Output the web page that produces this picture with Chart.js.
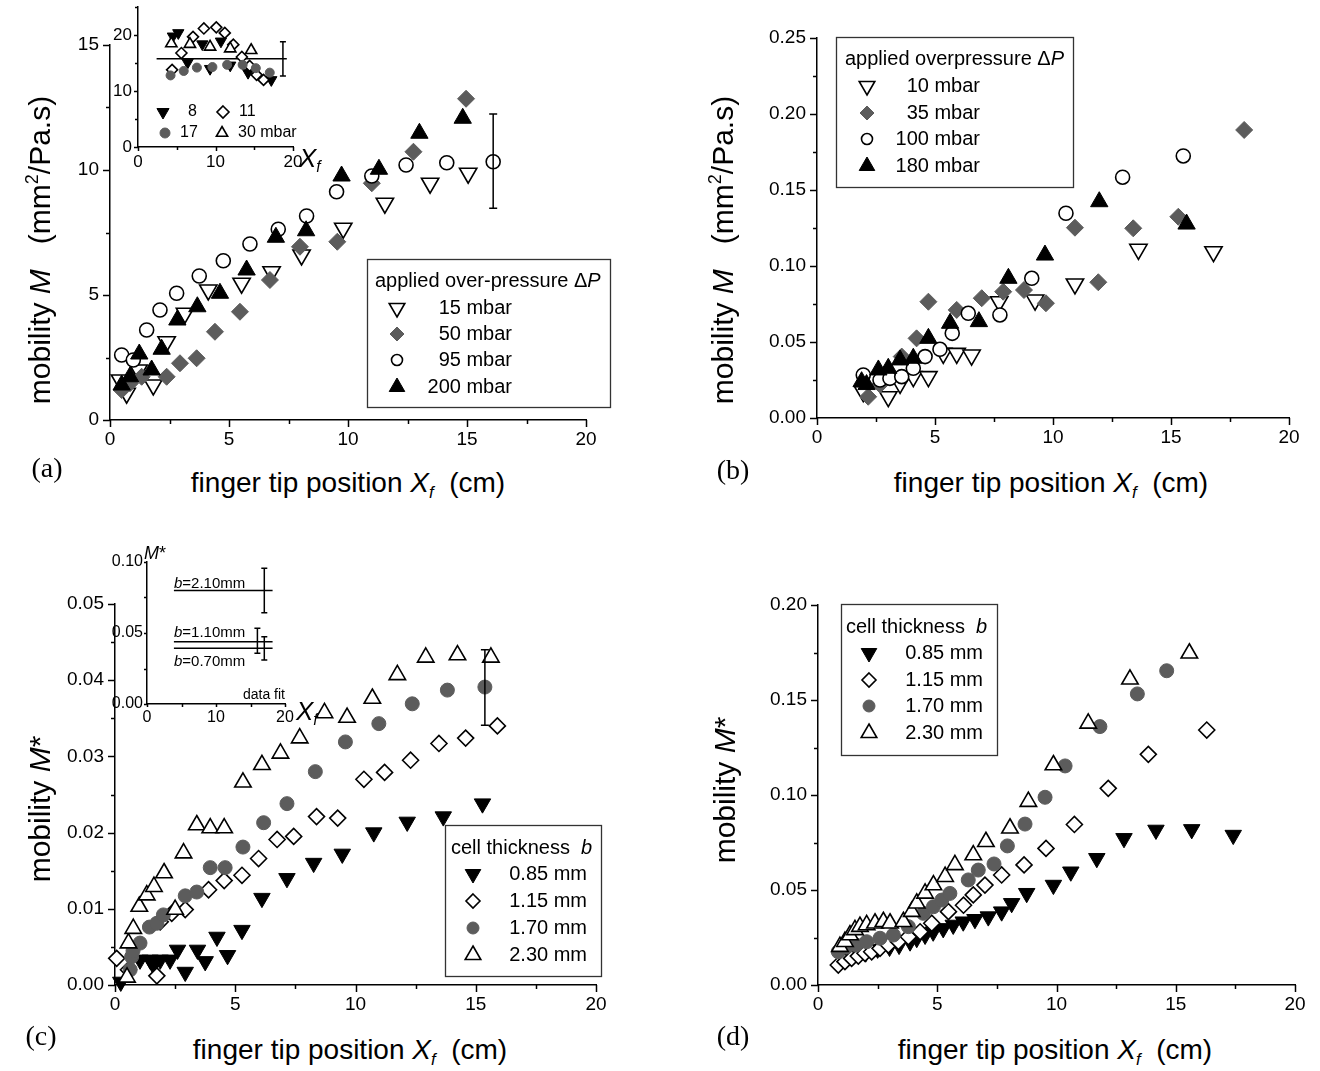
<!DOCTYPE html>
<html>
<head>
<meta charset="utf-8">
<script src="https://cdn.jsdelivr.net/npm/chart.js@4.4.1/dist/chart.umd.min.js"></script>
<style>
body { margin: 0; background: #fff; }
#page { position: relative; width: 1320px; height: 1071px; overflow: hidden; font-family: "Liberation Sans", Arial, sans-serif; color: #000; }
canvas { position: absolute; }
.t { position: absolute; white-space: nowrap; line-height: 1; }
sub { font-size: 0.6em; vertical-align: -0.35em; line-height: 0; }
sup { font-size: 0.6em; vertical-align: 0.65em; line-height: 0; }
</style>
</head>
<body>
<div id="page"></div>
<script>
// ---- panel (a): mobility vs tip position, 4 pressures
var aLabels = ['15 mbar', '50 mbar', '95 mbar', '200 mbar'];
var a15X = [0.42, 0.7, 1.2, 1.82, 2.38, 3.15, 4.13, 5.53, 6.79, 8.05, 9.8, 11.55, 13.45, 15.05];
var a15Y = [1.6, 1.07, 2.0, 1.4, 3.13, 4.27, 5.2, 5.47, 5.93, 6.6, 7.67, 8.67, 9.47, 9.87];
var a50X = [0.49, 0.84, 1.33, 2.38, 2.94, 3.64, 4.41, 5.46, 6.72, 7.98, 9.55, 11.0, 12.75, 14.96];
var a50Y = [1.2, 1.47, 1.73, 1.73, 2.27, 2.47, 3.53, 4.33, 5.6, 6.93, 7.13, 9.47, 10.73, 12.85];
var a95X = [0.49, 0.98, 1.54, 2.1, 2.8, 3.75, 4.76, 5.88, 7.07, 8.26, 9.52, 11.0, 12.44, 14.15, 16.1];
var a95Y = [2.6, 2.4, 3.6, 4.4, 5.07, 5.76, 6.37, 7.04, 7.63, 8.16, 9.13, 9.76, 10.2, 10.29, 10.33];
var a200X = [0.49, 0.84, 1.23, 1.75, 2.17, 2.83, 3.67, 4.62, 5.74, 6.97, 8.24, 9.73, 11.3, 13.0, 14.82];
var a200Y = [1.4, 1.73, 2.64, 2.0, 2.83, 4.0, 4.53, 5.07, 6.0, 7.31, 7.57, 9.76, 10.03, 11.47, 12.07];
var aErr = [16.1, 8.47, 12.24];
var aXTicks = [0, 5, 10, 15, 20];
var aYTicks = [0, 5, 10, 15];

// inset of (a)
var insALabels = ['8', '11', '17', '30 mbar'];
var ins8X = [4.5, 5.2, 6.4, 8.3, 9.3, 10.7, 11.9, 14.2, 17.2];
var ins8Y = [19.8, 20.4, 15.1, 18.4, 14.0, 18.9, 14.6, 13.3, 12.0];
var ins11X = [4.4, 5.6, 7.1, 8.5, 10.1, 11.2, 12.3, 13.4, 14.4, 15.3, 16.2];
var ins11Y = [13.8, 16.8, 19.7, 21.2, 21.4, 20.4, 18.3, 16.1, 14.5, 12.9, 12.0];
var ins17X = [4.2, 5.9, 7.6, 9.6, 11.5, 13.5, 15.2, 17.0];
var ins17Y = [12.8, 13.6, 14.2, 14.3, 14.7, 14.7, 14.1, 13.3];
var ins30X = [4.3, 6.7, 9.3, 11.9, 14.6];
var ins30Y = [18.5, 18.4, 17.9, 17.6, 17.3];
var insAFitX = [2.4, 19.2];
var insAFitY = [15.8, 15.8];
var insAErr = [18.7, 12.7, 18.8];
var insAXTicks = [0, 10, 20];
var insAYTicks = [0, 10, 20];

// ---- panel (b)
var bLabels = ['10 mbar', '35 mbar', '100 mbar', '180 mbar'];
var b10X = [1.96, 3.02, 3.52, 4.08, 4.72, 5.35, 5.92, 6.55, 7.72, 9.24, 10.93, 13.62, 16.8];
var b10Y = [0.0173, 0.014, 0.0228, 0.0272, 0.0272, 0.0425, 0.0425, 0.0414, 0.0765, 0.0776, 0.0882, 0.111, 0.1094];
var b35X = [2.17, 2.67, 3.59, 4.22, 4.72, 5.92, 6.98, 7.89, 8.77, 9.7, 10.93, 11.92, 13.4, 15.31, 18.1];
var b35Y = [0.014, 0.022, 0.0404, 0.0524, 0.0765, 0.0711, 0.0788, 0.0831, 0.0842, 0.0755, 0.1252, 0.0893, 0.1248, 0.1324, 0.1895];
var b100X = [1.96, 2.67, 3.09, 3.59, 4.08, 4.58, 5.21, 5.73, 6.41, 7.75, 9.1, 10.55, 12.95, 15.52];
var b100Y = [0.0283, 0.025, 0.0261, 0.0272, 0.0327, 0.0404, 0.0452, 0.0557, 0.0689, 0.0678, 0.0919, 0.1347, 0.1584, 0.1724];
var b180X = [1.89, 2.1, 2.6, 3.02, 3.52, 4.08, 4.72, 5.64, 6.86, 8.11, 9.66, 11.96, 15.66];
var b180Y = [0.0239, 0.022, 0.0316, 0.0327, 0.0382, 0.0393, 0.0524, 0.0623, 0.0634, 0.0919, 0.1072, 0.1423, 0.1276];
var bYTicks = [0, 0.05, 0.10, 0.15, 0.20, 0.25];

// ---- panel (c)
var cLabels = ['0.85 mm', '1.15 mm', '1.70 mm', '2.30 mm'];
var c085X = [0.24, 1.04, 1.46, 1.6, 1.88, 2.29, 2.6, 2.92, 3.43, 3.75, 4.24, 4.68, 5.28, 6.11, 7.15, 8.26, 9.45, 10.76, 12.15, 13.65, 15.28];
var c085Y = [0.0004, 0.0033, 0.0033, 0.0026, 0.0033, 0.0033, 0.0046, 0.0017, 0.0046, 0.0031, 0.0063, 0.0039, 0.0072, 0.0114, 0.014, 0.016, 0.0172, 0.020, 0.0214, 0.0221, 0.0238];
var c115X = [0.07, 0.56, 1.74, 1.88, 2.36, 2.92, 3.89, 4.54, 5.28, 5.97, 6.74, 7.43, 8.38, 9.26, 10.35, 11.21, 12.29, 13.47, 14.58, 15.9];
var c115Y = [0.0035, 0.002, 0.0012, 0.0083, 0.0094, 0.0099, 0.0125, 0.0137, 0.0144, 0.0166, 0.0191, 0.0195, 0.0221, 0.0219, 0.027, 0.0279, 0.0295, 0.0317, 0.0324, 0.034];
var c170X = [0.63, 0.69, 0.75, 1.04, 1.43, 1.74, 2.01, 2.92, 3.4, 3.96, 4.58, 5.32, 6.18, 7.15, 8.33, 9.58, 10.97, 12.36, 13.82, 15.38];
var c170Y = [0.002, 0.0037, 0.0045, 0.0055, 0.0076, 0.0081, 0.0092, 0.0117, 0.0122, 0.0154, 0.0154, 0.0181, 0.0213, 0.0238, 0.028, 0.0319, 0.0343, 0.0369, 0.0387, 0.0391];
var c230X = [0.5, 0.56, 0.76, 1.01, 1.32, 1.62, 2.04, 2.5, 2.85, 3.4, 3.96, 4.54, 5.32, 6.11, 6.88, 7.68, 8.71, 9.65, 10.7, 11.74, 12.92, 14.24, 15.63];
var c230Y = [0.001, 0.0055, 0.0074, 0.0103, 0.0118, 0.0129, 0.0147, 0.0099, 0.0173, 0.021, 0.0206, 0.0206, 0.0266, 0.0289, 0.0304, 0.0324, 0.0357, 0.0351, 0.0376, 0.0407, 0.043, 0.0433, 0.043];
var cErr = [15.38, 0.0341, 0.044];
var cYTicks = [0, 0.01, 0.02, 0.03, 0.04, 0.05];

// inset of (c): fitted levels
var insCFitX = [3.9, 18.2];
var insC210Y = [0.080, 0.080];
var insC110Y = [0.0439, 0.0439];
var insC070Y = [0.0392, 0.0392];
var insCErr = [[17.0, 0.0643, 0.0956], [16.0, 0.0357, 0.0533], [17.0, 0.031, 0.0474]];
var insCXTicks = [0, 10, 20];
var insCYTicks = [0, 0.05, 0.10];

// ---- panel (d)
var d085X = [1.5, 2.0, 2.5, 3.0, 3.4, 3.86, 4.14, 4.49, 4.83, 5.25, 5.67, 6.09, 6.58, 7.14, 7.7, 8.12, 8.75, 9.87, 10.6, 11.69, 12.83, 14.17, 15.67, 17.41];
var d085Y = [0.016, 0.017, 0.019, 0.020, 0.021, 0.0228, 0.0246, 0.0263, 0.028, 0.0298, 0.0316, 0.0333, 0.0346, 0.036, 0.0386, 0.043, 0.0483, 0.0526, 0.0596, 0.0667, 0.0772, 0.0816, 0.0819, 0.0789];
var d115X = [0.85, 1.13, 1.41, 1.69, 1.97, 2.25, 2.6, 2.95, 3.37, 3.79, 4.28, 4.77, 5.47, 6.1, 6.51, 7.0, 7.7, 8.64, 9.56, 10.75, 12.17, 13.85, 16.3];
var d115Y = [0.0105, 0.0123, 0.014, 0.0152, 0.0167, 0.0175, 0.0193, 0.021, 0.0228, 0.0254, 0.028, 0.0325, 0.0386, 0.042, 0.0474, 0.0526, 0.0579, 0.0632, 0.0719, 0.0845, 0.1035, 0.1214, 0.1342];
var d170X = [0.85, 1.2, 1.6, 2.04, 2.6, 3.16, 3.79, 4.42, 4.84, 5.19, 5.53, 6.3, 6.72, 7.38, 7.94, 8.68, 9.52, 10.36, 11.82, 13.39, 14.62];
var d170Y = [0.0175, 0.02, 0.021, 0.0228, 0.0246, 0.0263, 0.0307, 0.0377, 0.0412, 0.0447, 0.0482, 0.0553, 0.0605, 0.0637, 0.0732, 0.0847, 0.0988, 0.1153, 0.136, 0.1532, 0.1654];
var d230X = [0.92, 1.13, 1.34, 1.55, 1.76, 2.04, 2.39, 2.74, 3.02, 3.58, 3.93, 4.14, 4.49, 4.84, 5.33, 5.74, 6.51, 7.04, 8.05, 8.82, 9.87, 11.33, 13.08, 15.57];
var d230Y = [0.0202, 0.0228, 0.0263, 0.029, 0.0307, 0.0316, 0.0325, 0.0333, 0.0325, 0.0333, 0.0386, 0.043, 0.0482, 0.0526, 0.057, 0.0632, 0.0684, 0.0754, 0.0825, 0.0965, 0.1158, 0.1377, 0.1609, 0.1746];
var dYTicks = [0, 0.05, 0.10, 0.15, 0.20];

var page = document.getElementById('page');
var FONT = '"Liberation Sans", Arial, sans-serif';
var GREY = '#5c5c5c';

var SYM = {
    openDown: {pointStyle: 'triangle', rotation: 180, bg: '#fff', bd: '#000', bw: 1.6},
    fillDown: {pointStyle: 'triangle', rotation: 180, bg: '#000', bd: '#000', bw: 1},
    openUp: {pointStyle: 'triangle', rotation: 0, bg: '#fff', bd: '#000', bw: 1.6},
    fillUp: {pointStyle: 'triangle', rotation: 0, bg: '#000', bd: '#000', bw: 1},
    greyDiamond: {pointStyle: 'rectRot', rotation: 0, bg: GREY, bd: GREY, bw: 1},
    openDiamond: {pointStyle: 'rectRot', rotation: 0, bg: '#fff', bd: '#000', bw: 1.6},
    openCircle: {pointStyle: 'circle', rotation: 0, bg: '#fff', bd: '#000', bw: 1.6},
    greyCircle: {pointStyle: 'circle', rotation: 0, bg: GREY, bd: GREY, bw: 1}
};

function pts(xs, ys) {
    return xs.map(function (x, i) { return {x: x, y: ys[i]}; });
}

function series(label, xs, ys, sym, r, i) {
    return {
        label: label, data: pts(xs, ys), sym: sym,
        pointStyle: sym.pointStyle, pointRotation: sym.rotation,
        pointRadius: r, pointHoverRadius: r,
        pointBackgroundColor: sym.bg, pointBorderColor: sym.bd, pointBorderWidth: sym.bw,
        clip: false, order: -i
    };
}

function fitLine(xs, ys) {
    return {data: pts(xs, ys), showLine: true, pointRadius: 0, borderColor: '#000', borderWidth: 1.5, clip: false, order: 5};
}

function drawSym(ctx, sym, r, x, y) {
    ctx.save();
    ctx.fillStyle = sym.bg;
    ctx.strokeStyle = sym.bd;
    ctx.lineWidth = sym.bw;
    ctx.beginPath();
    if (sym.pointStyle === 'circle') {
        ctx.arc(x, y, r, 0, Math.PI * 2);
    } else if (sym.pointStyle === 'rectRot') {
        ctx.moveTo(x, y - r); ctx.lineTo(x + r, y); ctx.lineTo(x, y + r); ctx.lineTo(x - r, y);
        ctx.closePath();
    } else {
        var s = sym.rotation ? -1 : 1;
        var h = r * Math.sqrt(3) / 2;
        ctx.moveTo(x, y - s * r); ctx.lineTo(x + h, y + s * r / 2); ctx.lineTo(x - h, y + s * r / 2);
        ctx.closePath();
    }
    ctx.fill();
    ctx.stroke();
    ctx.restore();
}

function drawRich(ctx, segs, x, y, size) {
    var cx = x;
    segs.forEach(function (s) {
        ctx.font = (s.i ? 'italic ' : '') + size + 'px ' + FONT;
        ctx.fillText(s.t, cx, y);
        cx += ctx.measureText(s.t).width;
    });
}

// minor + major tick marks, outward
var tickMarks = {
    id: 'tickMarks',
    afterDraw: function (chart, args, o) {
        if (!o.x) return;
        var ctx = chart.ctx, a = chart.chartArea;
        ctx.save();
        ctx.strokeStyle = '#000';
        ctx.lineWidth = 1.5;
        ['x', 'y'].forEach(function (k) {
            var s = chart.scales[k], step = o[k];
            var majors = s.ticks.map(function (t) { return t.value; });
            var n = Math.round((s.max - s.min) / step);
            for (var i = 0; i <= n; i++) {
                var v = s.min + i * step;
                var isMaj = majors.some(function (m) { return Math.abs(m - v) < step / 10; });
                var len = isMaj ? o.major : o.minor;
                var p = Math.round(s.getPixelForValue(v)) + 0.5;
                ctx.beginPath();
                if (k === 'x') { ctx.moveTo(p, a.bottom); ctx.lineTo(p, a.bottom + len); }
                else { ctx.moveTo(a.left, p); ctx.lineTo(a.left - len, p); }
                ctx.stroke();
            }
        });
        ctx.restore();
    }
};

var errorBars = {
    id: 'errorBars',
    afterDatasetsDraw: function (chart, args, o) {
        if (!o.bars) return;
        var ctx = chart.ctx, sx = chart.scales.x, sy = chart.scales.y;
        ctx.save();
        ctx.strokeStyle = '#000';
        ctx.lineWidth = 1.5;
        o.bars.forEach(function (b) {
            var x = sx.getPixelForValue(b[0]), y1 = sy.getPixelForValue(b[1]), y2 = sy.getPixelForValue(b[2]);
            ctx.beginPath();
            ctx.moveTo(x, y1); ctx.lineTo(x, y2);
            ctx.moveTo(x - o.cap, y1); ctx.lineTo(x + o.cap, y1);
            ctx.moveTo(x - o.cap, y2); ctx.lineTo(x + o.cap, y2);
            ctx.stroke();
        });
        ctx.restore();
    }
};

// framed legend, positions given in page pixels
var boxLegend = {
    id: 'boxLegend',
    beforeDatasetsDraw: function (chart, args, o) {
        if (!o.items) return;
        var ctx = chart.ctx, ox = o.origin[0], oy = o.origin[1];
        var ds = chart.data.datasets;
        ctx.save();
        if (o.box) {
            ctx.strokeStyle = '#333';
            ctx.lineWidth = 1.3;
            ctx.strokeRect(o.box[0] - ox + 0.5, o.box[1] - oy + 0.5, o.box[2] - o.box[0], o.box[3] - o.box[1]);
        }
        ctx.fillStyle = '#000';
        ctx.textBaseline = 'middle';
        if (o.title) {
            ctx.textAlign = 'left';
            drawRich(ctx, o.title, o.titleX - ox, o.titleY - oy, o.size);
        }
        o.items.forEach(function (it) {
            var d = ds[it[0]];
            drawSym(ctx, d.sym, it[5], it[1] - ox, it[2] - oy);
            ctx.font = o.size + 'px ' + FONT;
            ctx.textAlign = it[4] === 'r' ? 'right' : 'left';
            ctx.fillStyle = '#000';
            ctx.fillText(d.label, it[3] - ox, it[2] - oy);
        });
        ctx.restore();
    }
};

function axis(pos, min, max, ticksArr, fmt, fs, tl, pad, size) {
    return {
        type: 'linear', position: pos, min: min, max: max,
        afterBuildTicks: function (s) { s.ticks = ticksArr.map(function (v) { return {value: v}; }); },
        afterFit: function (s) { if (pos === 'bottom') s.height = size; else s.width = size; },
        ticks: {font: {family: FONT, size: fs}, color: '#000', padding: pad, maxRotation: 0, autoSkip: false,
            callback: function (v) { return fmt(v); }},
        grid: {drawOnChartArea: false, drawTicks: true, tickLength: tl, color: 'rgba(0,0,0,0)'},
        border: {display: true, color: '#000', width: 1.5}
    };
}

function makeChart(area, datasets, c) {
    var left = area.l - c.W, top = area.t - c.PT;
    var w = area.r - area.l + c.W + c.PR, h = area.b - area.t + c.PT + c.H;
    var cv = document.createElement('canvas');
    cv.width = w; cv.height = h;
    cv.style.left = left + 'px'; cv.style.top = top + 'px';
    cv.style.width = w + 'px'; cv.style.height = h + 'px';
    page.appendChild(cv);
    var legend = c.legend || {};
    legend.origin = [left, top];
    return new Chart(cv, {
        type: 'scatter',
        data: {datasets: datasets},
        options: {
            responsive: false, animation: false, devicePixelRatio: 1,
            layout: {padding: {top: c.PT, right: c.PR, left: 0, bottom: 0}},
            scales: {
                x: axis('bottom', c.x[0], c.x[1], c.xt, c.xf, c.fs, c.tl, c.padX, c.H),
                y: axis('left', c.y[0], c.y[1], c.yt, c.yf, c.fs, c.tl, c.padY, c.W)
            },
            plugins: {
                legend: {display: false}, tooltip: {enabled: false},
                tickMarks: {x: c.minor[0], y: c.minor[1], major: c.tl, minor: c.tlMinor},
                errorBars: {bars: c.bars || [], cap: c.cap || 4},
                boxLegend: legend
            }
        },
        plugins: [tickMarks, errorBars, boxLegend]
    });
}

function legendRows(rows, symX, textX, align, radii) {
    return rows.map(function (y, i) { return [i, symX, y, textX, align, radii[i]]; });
}

var fInt = function (v) { return String(v); };
var f2 = function (v) { return v.toFixed(2); };

var mainCfg = {W: 85, H: 45, PT: 20, PR: 28, fs: 19, tl: 7, tlMinor: 4, padX: 1, padY: 4};
function cfg(extra) { return Object.assign({}, mainCfg, extra); }

// (a)
makeChart({l: 110, t: 45, r: 586, b: 420}, [
    series(aLabels[0], a15X, a15Y, SYM.openDown, 10, 0),
    series(aLabels[1], a50X, a50Y, SYM.greyDiamond, 8.5, 1),
    series(aLabels[2], a95X, a95Y, SYM.openCircle, 7, 2),
    series(aLabels[3], a200X, a200Y, SYM.fillUp, 10, 3)
], cfg({x: [0, 20], y: [0, 15], xt: aXTicks, yt: aYTicks, xf: fInt, yf: fInt, minor: [2.5, 2.5],
    bars: [aErr], cap: 4,
    legend: {box: [367, 259, 610, 407], title: [{t: 'applied over-pressure \u0394'}, {t: 'P', i: true}],
        titleX: 375, titleY: 281, size: 20,
        items: legendRows([308, 334, 360, 387], 397, 512, 'r', [9, 7, 5.5, 9])}}));

// inset (a)
makeChart({l: 138, t: 7, r: 293, b: 147}, [
    series(insALabels[0], ins8X, ins8Y, SYM.fillDown, 6.5, 0),
    series(insALabels[1], ins11X, ins11Y, SYM.openDiamond, 5.5, 1),
    series(insALabels[2], ins17X, ins17Y, SYM.greyCircle, 4.5, 2),
    series(insALabels[3], ins30X, ins30Y, SYM.openUp, 6.5, 3),
    fitLine(insAFitX, insAFitY)
], {W: 45, H: 30, PT: 12, PR: 12, fs: 17, tl: 4, tlMinor: 3, padX: 1, padY: 2,
    x: [0, 20], y: [0, 25], xt: insAXTicks, yt: insAYTicks, xf: fInt, yf: fInt, minor: [5, 5],
    bars: [insAErr], cap: 3,
    legend: {size: 16, items: [[0, 163, 112, 188, 'l', 7], [1, 223, 112, 239, 'l', 6],
        [2, 165, 133, 180, 'l', 5], [3, 222, 133, 238, 'l', 6.5]]}});

// (b)
makeChart({l: 817, t: 38, r: 1289, b: 418}, [
    series(bLabels[0], b10X, b10Y, SYM.openDown, 10, 0),
    series(bLabels[1], b35X, b35Y, SYM.greyDiamond, 8.5, 1),
    series(bLabels[2], b100X, b100Y, SYM.openCircle, 7, 2),
    series(bLabels[3], b180X, b180Y, SYM.fillUp, 10, 3)
], cfg({x: [0, 20], y: [0, 0.25], xt: aXTicks, yt: bYTicks, xf: fInt, yf: f2, minor: [2.5, 0.025],
    legend: {box: [836, 37, 1073, 187], title: [{t: 'applied overpressure \u0394'}, {t: 'P', i: true}],
        titleX: 845, titleY: 59, size: 20,
        items: legendRows([86, 113, 139, 166], 867, 980, 'r', [9, 7, 5.5, 9])}}));

// (c)
makeChart({l: 115, t: 604, r: 596, b: 985}, [
    series(cLabels[0], c085X, c085Y, SYM.fillDown, 9.5, 0),
    series(cLabels[1], c115X, c115Y, SYM.openDiamond, 8, 1),
    series(cLabels[2], c170X, c170Y, SYM.greyCircle, 7, 2),
    series(cLabels[3], c230X, c230Y, SYM.openUp, 9.5, 3)
], cfg({x: [0, 20], y: [0, 0.05], xt: aXTicks, yt: cYTicks, xf: fInt, yf: f2, minor: [2.5, 0.005],
    bars: [cErr], cap: 4,
    legend: {box: [445, 825, 601, 976], title: [{t: 'cell thickness  '}, {t: 'b', i: true}],
        titleX: 451, titleY: 848, size: 20,
        items: legendRows([874, 901, 928, 955], 473, 587, 'r', [9, 7, 6, 9])}}));

// inset (c)
makeChart({l: 147, t: 562, r: 285, b: 704}, [
    fitLine(insCFitX, insC210Y),
    fitLine(insCFitX, insC110Y),
    fitLine(insCFitX, insC070Y)
], {W: 50, H: 30, PT: 12, PR: 12, fs: 16, tl: 3, tlMinor: 3, padX: 1, padY: 1,
    x: [0, 20], y: [0, 0.10], xt: insCXTicks, yt: insCYTicks, xf: fInt, yf: f2, minor: [5, 0.025],
    bars: insCErr, cap: 3});

// (d)
makeChart({l: 818, t: 605, r: 1295, b: 985}, [
    series(cLabels[0], d085X, d085Y, SYM.fillDown, 9.5, 0),
    series(cLabels[1], d115X, d115Y, SYM.openDiamond, 8, 1),
    series(cLabels[2], d170X, d170Y, SYM.greyCircle, 7, 2),
    series(cLabels[3], d230X, d230Y, SYM.openUp, 9.5, 3)
], cfg({x: [0, 20], y: [0, 0.20], xt: aXTicks, yt: dYTicks, xf: fInt, yf: f2, minor: [2.5, 0.025],
    legend: {box: [841, 604, 997, 755], title: [{t: 'cell thickness  '}, {t: 'b', i: true}],
        titleX: 846, titleY: 627, size: 20,
        items: legendRows([653, 680, 706, 733], 869, 983, 'r', [9, 7, 6, 9])}}));

// ---- text labels
function txt(html, x, y, size, anchor, extra) {
    var d = document.createElement('div');
    d.className = 't';
    d.innerHTML = html;
    d.style.left = x + 'px';
    d.style.top = y + 'px';
    d.style.fontSize = size + 'px';
    d.style.transform = {c: 'translate(-50%,-50%)', l: 'translate(0,-50%)', r: 'translate(-100%,-50%)',
        v: 'translate(-50%,-50%) rotate(-90deg)'}[anchor || 'c'];
    if (extra) d.style.cssText += extra;
    page.appendChild(d);
}

var xTitle = 'finger tip position <i>X<sub>f</sub></i>&nbsp; (cm)';
var yTitleM = 'mobility <i>M</i>&nbsp;&nbsp; (mm<sup>2</sup>/Pa.s)';
var yTitleStar = 'mobility <i>M</i>*';
var serif = 'font-family:"Liberation Serif","Times New Roman",serif;';

txt(yTitleM, 40, 250, 30, 'v');
txt(yTitleM, 723, 250, 30, 'v');
txt(yTitleStar, 40, 809, 30, 'v');
txt(yTitleStar, 725, 790, 30, 'v');
txt(xTitle, 348, 483, 28, 'c');
txt(xTitle, 1051, 483, 28, 'c');
txt(xTitle, 350, 1050, 28, 'c');
txt(xTitle, 1055, 1050, 28, 'c');
txt('(a)', 47, 468, 28, 'c', serif);
txt('(b)', 733, 470, 28, 'c', serif);
txt('(c)', 41, 1036, 28, 'c', serif);
txt('(d)', 733, 1036, 28, 'c', serif);

// inset annotations
txt('<i>X<sub>f</sub></i>', 299, 158, 26, 'l');
txt('<i>M</i>*', 144, 553, 18, 'l');
txt('<i>b</i>=2.10mm', 174, 582, 15, 'l');
txt('<i>b</i>=1.10mm', 174, 631, 15, 'l');
txt('<i>b</i>=0.70mm', 174, 660, 15, 'l');
txt('data fit', 285, 694, 14, 'r');
txt('<i>X<sub>f</sub></i>', 296, 711, 26, 'l');
</script>
</body>
</html>
